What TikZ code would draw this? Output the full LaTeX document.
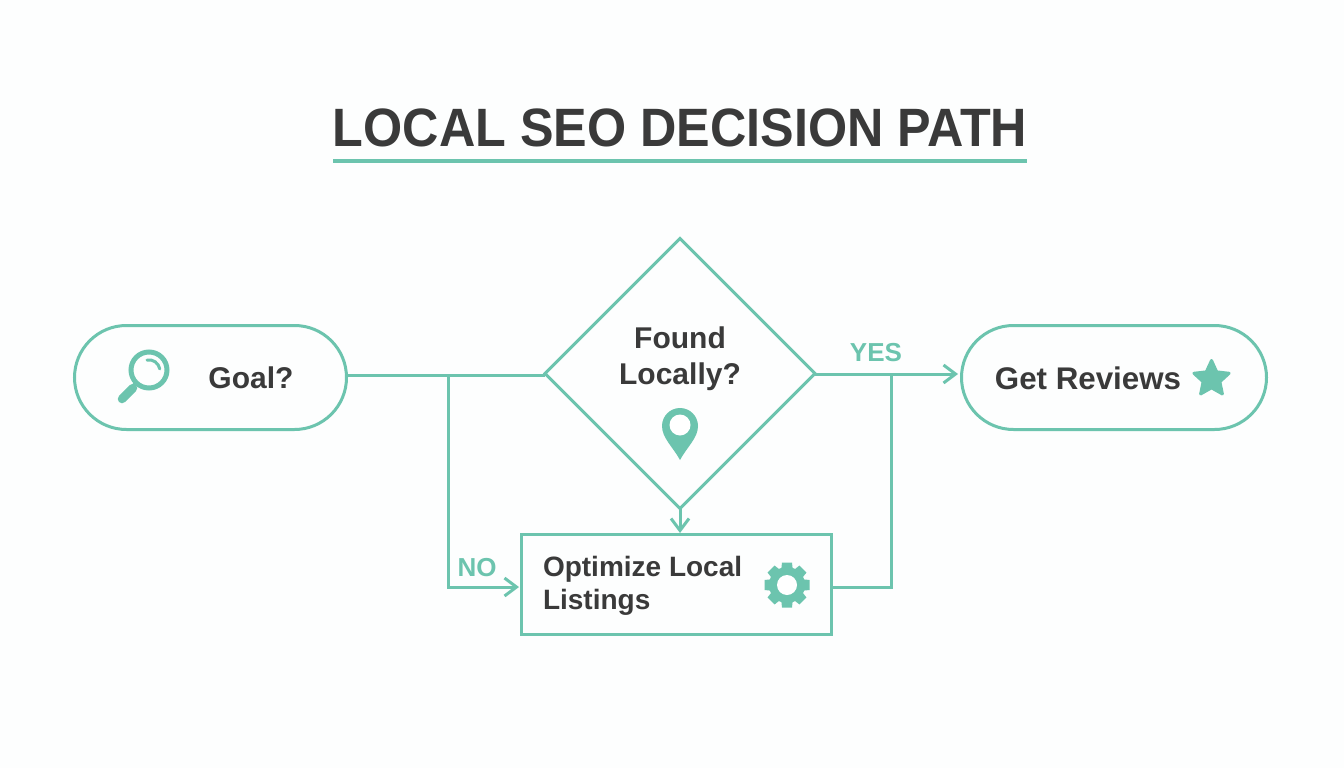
\documentclass[tikz,border=0pt]{standalone}
\usepackage{fontspec}
\setmainfont{Liberation Sans}
\usetikzlibrary{arrows.meta, shapes.geometric, shapes.misc}
\definecolor{seoteal}{HTML}{6CC4AE}
\definecolor{seotext}{HTML}{3A3A3A}
\definecolor{seopaper}{HTML}{FDFEFE}
\tikzset{every picture/.append style={x=1pt, y=-1pt}}
\tikzset{
    every node/.style={inner sep=0pt, outer sep=0pt},
    box/.style={draw=seoteal, line width=3pt},
    link/.style={draw=seoteal, line width=3pt},
    tip/.style={-{Straight Barb[length=12pt, width=18pt, line width=3pt]}},
    word/.style={font=\bfseries\fontsize{30}{36}\selectfont, text=seotext, align=left},
    tag/.style={font=\bfseries\fontsize{26}{30}\selectfont, text=seoteal},
    icon/.style={fill=seoteal, draw=none}
}

\begin{document}
\begin{tikzpicture}
	\useasboundingbox [fill=seopaper] (0,0) rectangle (1344,768);
	% title
	\node [font=\bfseries\fontsize{54}{60}\selectfont, text=seotext] (title) at (680,128) {\scalebox{.932}[1]{LOCAL SEO DECISION PATH}};
	\coordinate (rulel) at (333,161);
	\coordinate (ruler) at (1027,161);
	\draw [seoteal, line width=4pt] (rulel) -- (ruler);
	% shapes
	\node [box, rounded rectangle, minimum width=272pt, minimum height=104pt] (goal) at (210.5,377.5) {};
	\node [box, diamond, minimum width=270pt, minimum height=270pt] (found) at (680,373.5) {};
	\node [box, rounded rectangle, minimum width=305pt, minimum height=104pt] (reviews) at (1114,377.5) {};
	\node [box, rectangle, minimum width=310pt, minimum height=100pt] (listings) at (676.5,584.5) {};
	% texts
	\node [word] (goaltext) at (251,378) {Goal?};
	\node [word, align=center] (foundtext) at (680,359) {Found\\Locally?};
	\node [word, font=\bfseries\fontsize{31.3}{36}\selectfont] (reviewstext) at (1088,378) {Get Reviews};
	\node [word, anchor=west, font=\bfseries\fontsize{28}{33}\selectfont] (listingstext) at (543,586) {Optimize Local\\Listings};
	\node [tag] (yes) at (876,353) {YES};
	\node [tag] (no) at (477,568) {NO};
	% connectors
	\coordinate (goalout) at (347,375);
	\coordinate (split) at (448,375);
	\coordinate (nocorner) at (448,587);
	\coordinate (noin) at (519,587);
	\coordinate (foundin) at (545,375);
	\coordinate (foundout) at (815,374);
	\coordinate (merge) at (891,374);
	\coordinate (yesin) at (958,374);
	\coordinate (listingsout) at (832,587);
	\coordinate (yescorner) at (891,587);
	\coordinate (listingsin) at (680,533);
	\draw [link] (goalout) -- (foundin);
	\draw [link, tip] (split) -- (nocorner) -- (noin);
	\draw [link, tip] (foundout) -- (yesin);
	\draw [link] (listingsout) -- (yescorner) -- (merge);
	\draw [link, tip] (found.south) -- (listingsin);
	% magnifier
	\node [draw=seoteal, line width=5pt, circle, minimum size=36pt] (lens) at (149,370) {};
	\draw [seoteal, line width=3pt, line cap=round] (147,360) arc (-100:-10:11);
	\draw [seoteal, line width=4pt] (lens.225) -- (131,389);
	\draw [seoteal, line width=8.5pt, line cap=round] (133,388) -- (122,399);
	% pin
	\fill [seoteal] (680,460) .. controls (673,447) and (662,438) .. (662,426) arc (180:360:18) .. controls (698,438) and (687,447) .. (680,460) -- cycle;
	\node [circle, fill=white, minimum size=21pt] (pinhole) at (680,425) {};
	% gear
	\node [icon, circle, minimum size=36pt] (gear) at (787,585) {};
	\foreach \a in {0,45,...,315}
		\fill [seoteal, rotate around={\a:(gear.center)}] (782,562.5) -- (792,562.5) -- (793,572) -- (781,572) -- cycle;
	\node [circle, fill=white, minimum size=20pt] (gearhole) at (787,585) {};
	% star
	\node [star, star points=5, star point ratio=2.1, fill=seoteal, draw=seoteal, line width=3pt, line join=round, minimum size=37pt] (staricon) at (1211.5,379) {};
\end{tikzpicture}
\end{document}
